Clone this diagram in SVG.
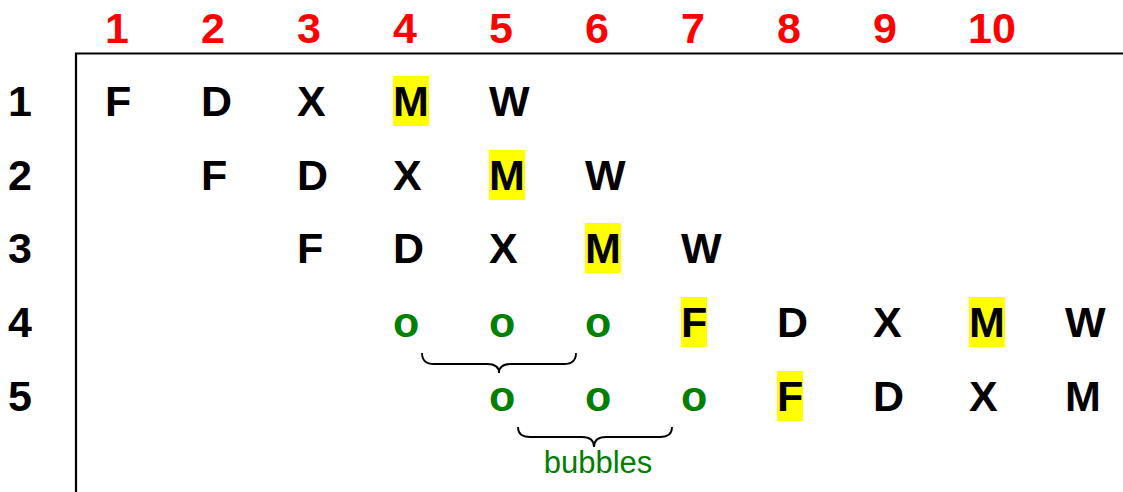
<svg xmlns="http://www.w3.org/2000/svg" width="1123" height="492" viewBox="0 0 1123 492">
<style>
text{font-family:"Liberation Sans",Arial,sans-serif;font-weight:bold;font-size:43px}
.h{fill:#ff0000}
.k{fill:#000}
.g{fill:#008000}
.hl{fill:#ffff00}
.ax{stroke:#000;stroke-width:2.2;fill:none}
.br{stroke:#000;stroke-width:1.8;fill:none}
.lbl{font-weight:normal;font-size:31px;fill:#008000}
</style>
<rect width="1123" height="492" fill="#fff"/>
<g id="axes">
<path class="ax" d="M76,492 V53.5 H1123"/>
</g>
<g id="col-headers">
<text class="h" x="105" y="43">1</text>
<text class="h" x="201" y="43">2</text>
<text class="h" x="297" y="43">3</text>
<text class="h" x="393" y="43">4</text>
<text class="h" x="489" y="43">5</text>
<text class="h" x="585" y="43">6</text>
<text class="h" x="681" y="43">7</text>
<text class="h" x="777" y="43">8</text>
<text class="h" x="873" y="43">9</text>
<text class="h" x="968" y="43">10</text>
</g>
<g id="row-labels">
<text class="k" x="8" y="116">1</text>
<text class="k" x="8" y="190">2</text>
<text class="k" x="8" y="263">3</text>
<text class="k" x="8" y="337">4</text>
<text class="k" x="8" y="411">5</text>
</g>
<g id="row1">
<text class="k" x="105" y="116">F</text>
<text class="k" x="201" y="116">D</text>
<text class="k" x="297" y="116">X</text>
<rect class="hl" x="393" y="76" width="36" height="50"/>
<text class="k" x="393" y="116">M</text>
<text class="k" x="489" y="116">W</text>
</g>
<g id="row2">
<text class="k" x="201" y="190">F</text>
<text class="k" x="297" y="190">D</text>
<text class="k" x="393" y="190">X</text>
<rect class="hl" x="489" y="150" width="36" height="50"/>
<text class="k" x="489" y="190">M</text>
<text class="k" x="585" y="190">W</text>
</g>
<g id="row3">
<text class="k" x="297" y="263">F</text>
<text class="k" x="393" y="263">D</text>
<text class="k" x="489" y="263">X</text>
<rect class="hl" x="585" y="223" width="36" height="50"/>
<text class="k" x="585" y="263">M</text>
<text class="k" x="681" y="263">W</text>
</g>
<g id="row4">
<text class="g" x="393" y="337">o</text>
<text class="g" x="489" y="337">o</text>
<text class="g" x="585" y="337">o</text>
<rect class="hl" x="681" y="297" width="26" height="50"/>
<text class="k" x="681" y="337">F</text>
<text class="k" x="777" y="337">D</text>
<text class="k" x="873" y="337">X</text>
<rect class="hl" x="969" y="297" width="36" height="50"/>
<text class="k" x="969" y="337">M</text>
<text class="k" x="1065" y="337">W</text>
</g>
<g id="row5">
<text class="g" x="489" y="411">o</text>
<text class="g" x="585" y="411">o</text>
<text class="g" x="681" y="411">o</text>
<rect class="hl" x="777" y="371" width="26" height="50"/>
<text class="k" x="777" y="411">F</text>
<text class="k" x="873" y="411">D</text>
<text class="k" x="969" y="411">X</text>
<text class="k" x="1065" y="411">M</text>
</g>
<g id="connectors">
<path class="br" d="M422,353 Q422,364 434,364 L487,364 Q499,364 499,373 Q499,364 511,364 L564,364 Q576,364 576,353"/>
<path class="br" d="M518,427 Q518,437 530,437 L582,437 Q594,437 594,447 Q594,437 606,437 L660,437 Q672,437 672,427"/>
</g>
<g id="bubbles-label">
<text class="lbl" x="598" y="473" text-anchor="middle">bubbles</text>
</g>
</svg>
